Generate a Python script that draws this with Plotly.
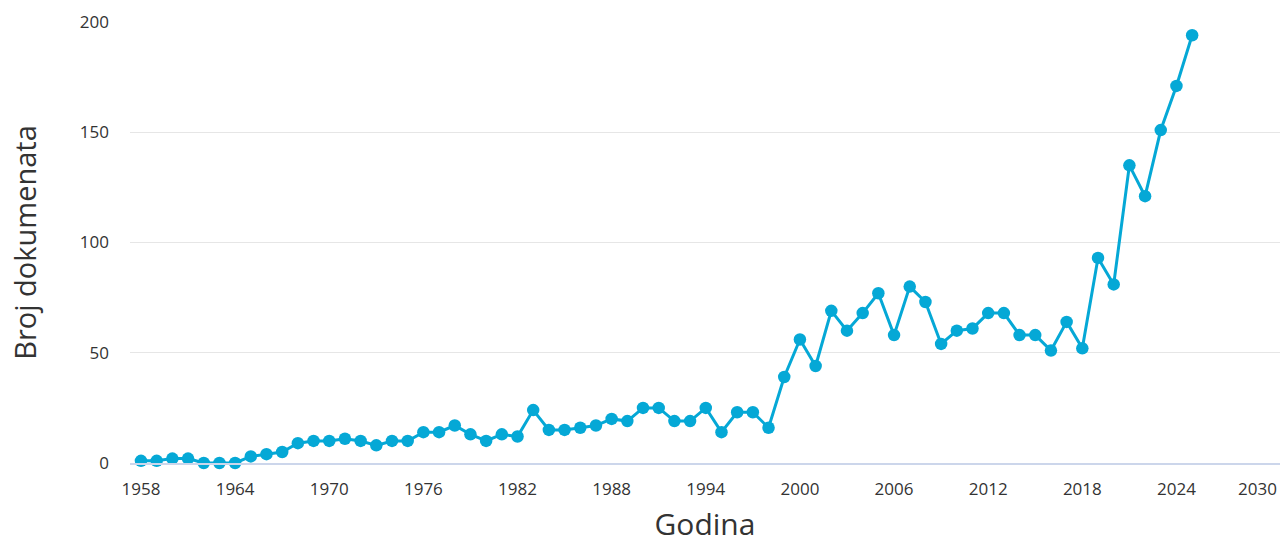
import plotly.graph_objects as go

years = list(range(1958, 2026))
counts = [1, 1, 2, 2, 0, 0, 0, 3, 4, 5,
          9, 10, 10, 11, 10, 8, 10, 10, 14, 14,
          17, 13, 10, 13, 12, 24, 15, 15, 16, 17,
          20, 19, 25, 25, 19, 19, 25, 14, 23, 23,
          16, 39, 56, 44, 69, 60, 68, 77, 58, 80,
          73, 54, 60, 61, 68, 68, 58, 58, 51, 64,
          52, 93, 81, 135, 121, 151, 171, 194]

x_ticks = [1958, 1964, 1970, 1976, 1982, 1988, 1994, 2000, 2006, 2012, 2018, 2024, 2030]
y_ticks = [0, 50, 100, 150, 200]

line_color = "#05a8d6"
font_family = "Open Sans, Noto Sans, sans-serif"
text_color = "#333333"
tick_size = 17

fig = go.Figure()
fig.add_trace(go.Scatter(
    x=years, y=counts, mode="lines+markers",
    line=dict(color=line_color, width=3),
    marker=dict(color=line_color, size=12.5),
    cliponaxis=False,
    showlegend=False,
    hoverinfo="x+y",
))

# Edge tick label is justified inward (as in the original chart), so the last
# label is drawn as an annotation anchored at its tick value.
inner_ticks = x_ticks[:-1]
last_tick = x_ticks[-1]

fig.update_layout(
    width=1282, height=544,
    margin=dict(l=130, r=2, t=22, b=81),
    paper_bgcolor="white", plot_bgcolor="white",
    font=dict(family=font_family, color=text_color),
    xaxis=dict(
        range=[1957.3, 2030.6],
        tickvals=inner_ticks,
        ticktext=[str(v) for v in inner_ticks],
        showgrid=False, zeroline=False,
        showline=True, linecolor="#ccd6eb", linewidth=2,
        ticks="", ticklabelstandoff=10,
        tickfont=dict(size=tick_size, color=text_color),
        title=dict(text="Godina", font=dict(size=30, color=text_color), standoff=18),
    ),
    yaxis=dict(
        range=[0, 200],
        tickvals=y_ticks,
        showgrid=True, gridcolor="#e6e6e6", gridwidth=1,
        zeroline=False, showline=False, ticks="",
        ticklabelstandoff=20,
        tickfont=dict(size=tick_size, color=text_color),
        title=dict(text="Broj dokumenata", font=dict(size=29, color=text_color), standoff=34),
    ),
    annotations=[dict(
        x=last_tick, xref="x", y=0, yref="paper",
        text=str(last_tick), showarrow=False,
        xanchor="right", yanchor="top", xshift=8, yshift=-12,
        font=dict(size=tick_size, color=text_color, family=font_family),
    )],
)

fig.write_html("out.html", config={"displayModeBar": False},
               post_script="document.body.style.margin='0';")
